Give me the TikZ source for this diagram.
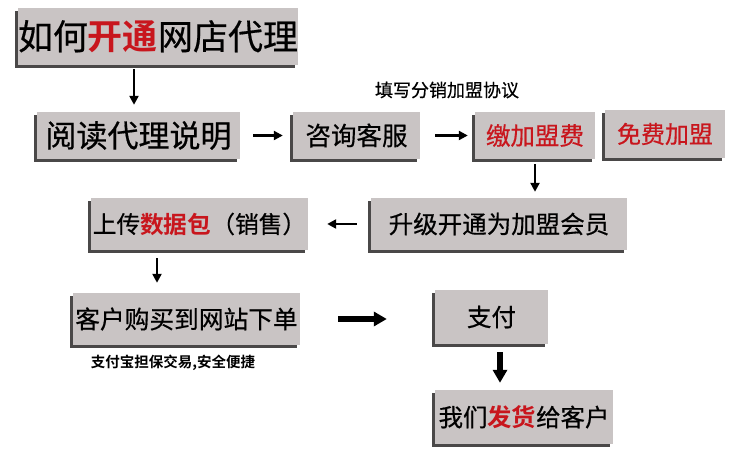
\documentclass[tikz,border=0pt]{standalone}
\usepackage{fontspec}
\setmainfont[FakeBold=0.5]{Noto Sans CJK SC}
\newfontfamily\cjkbold{Noto Sans CJK SC Bold}
\newfontfamily\cjkreg{Noto Sans CJK SC}
\usetikzlibrary{arrows.meta,shadows}
\definecolor{boxfill}{HTML}{C9C4C4}
\definecolor{shadowc}{HTML}{4A4848}
\definecolor{redtxt}{HTML}{C8161D}
\newcommand{\rt}[1]{\textcolor{redtxt}{\cjkbold #1}}
\tikzset{
  box/.style={fill=boxfill, inner sep=0pt, align=center,
    drop shadow={shadow xshift=-3bp, shadow yshift=-3bp, fill=shadowc, opacity=1}},
  arr/.style={line width=2.5bp, -{Triangle[length=9bp,width=9bp]}},
  bigarr/.style={line width=5.5bp, -{Triangle[length=13bp,width=14bp]}},
}
\begin{document}
\begin{tikzpicture}[x=1bp,y=-1bp]
\useasboundingbox (0,0) rectangle (751,463);
\fill[white] (0,0) rectangle (751,463);
\node[box, minimum width=274bp, minimum height=57bp, font=\fontsize{35bp}{38bp}\selectfont] (b1) at (158,36.5) {如何\rt{开通}网店代理};
\node[box, minimum width=203bp, minimum height=47bp, font=\fontsize{31bp}{34bp}\selectfont] (b2) at (138.5,135.5) {阅读代理说明};
\node[box, minimum width=127bp, minimum height=47bp, font=\fontsize{25.5bp}{28bp}\selectfont] (b3) at (356.5,135.5) {咨询客服};
\node[box, minimum width=120bp, minimum height=47bp, font=\fontsize{24.5bp}{28bp}\selectfont, text=redtxt] (b4) at (535,135.5) {缴加盟费};
\node[box, minimum width=120bp, minimum height=48bp, font=\fontsize{24bp}{28bp}\selectfont, text=redtxt] (b5) at (665,134) {免费加盟};
\node[box, minimum width=256bp, minimum height=52bp, font=\fontsize{24.5bp}{28bp}\selectfont] (b6) at (499,224) {升级开通为加盟会员};
\node[box, minimum width=217bp, minimum height=52bp, font=\fontsize{23.7bp}{28bp}\selectfont] (b7) at (199.5,224) {上传\rt{数据包}（销售）};
\node[box, minimum width=227bp, minimum height=52bp, font=\fontsize{24.7bp}{28bp}\selectfont] (b8) at (186.5,319) {客户购买到网站下单};
\node[box, minimum width=113bp, minimum height=54bp, font=\fontsize{24.5bp}{28bp}\selectfont] (b9) at (491.5,317) {支付};
\node[box, minimum width=178bp, minimum height=54bp, font=\fontsize{24.4bp}{28bp}\selectfont] (b10) at (524,417) {我们\rt{发货}给客户};
\node[font=\fontsize{18bp}{20bp}\selectfont] (l1) at (447,90) {填写分销加盟协议};
\node[font=\cjkbold\fontsize{14.5bp}{16bp}\selectfont] (l2) at (173,363) {支付宝担保交易,安全便捷};
\coordinate (a1) at (134,0);
\coordinate (a7) at (157,0);
\coordinate (a9) at (500,0);
\draw[arr, shorten <=4bp, shorten >=7bp] (b1.south -| a1) -- (b2.north -| a1);
\draw[arr, shorten <=13bp, shorten >=10bp] (b2.east) -- (b3.west);
\draw[arr, shorten <=15bp, shorten >=7bp] (b3.east) -- (b4.west);
\draw[arr, shorten <=5bp, shorten >=6bp] (b4.south) -- (b6.north -| b4.south);
\draw[arr, shorten <=14bp, shorten >=19bp] (b6.west) -- (b7.east);
\draw[arr, shorten <=8bp, shorten >=10bp] (b7.south -| a7) -- (b8.north -| a7);
\draw[bigarr, shorten <=38bp, shorten >=48bp] (b8.east) -- (b8.east -| b9.west);
\draw[bigarr, shorten <=8bp, shorten >=7bp] (b9.south -| a9) -- (b10.north -| a9);
\end{tikzpicture}
\end{document}
